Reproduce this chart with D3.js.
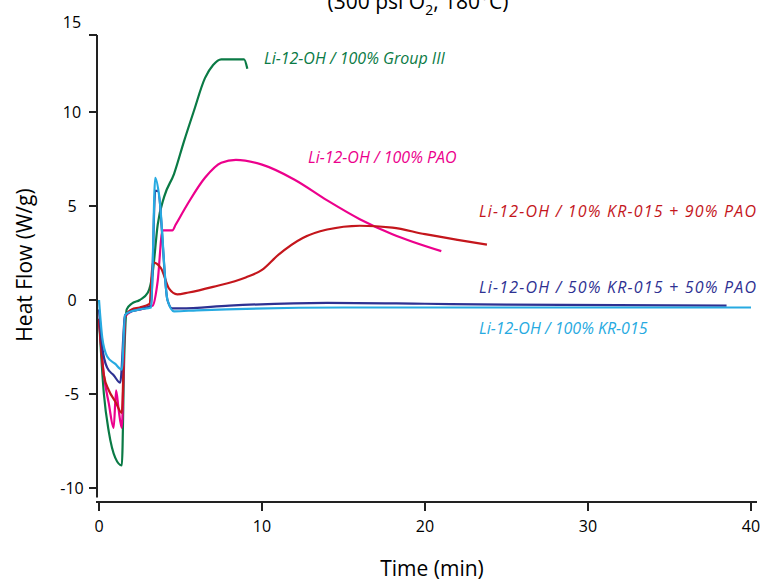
<!DOCTYPE html>
<html><head><meta charset="utf-8">
<script src="https://cdn.jsdelivr.net/npm/d3@7"></script>
<style>body{margin:0;background:#fff}text{font-family:"Open Sans",sans-serif}</style>
</head><body><svg id="c" width="764" height="582"></svg>
<script>
// [time (min), heat flow (W/g)]
const groupIII = [[0,-1],[0.3,-5],[0.6,-7],[1,-8.4],[1.4,-8.8],[1.55,-3],[1.7,-0.5],[2,-0.2],[2.5,0],[3,0.4],[3.3,1.5],[3.6,4],[4,5.5],[4.6,6.7],[5.2,8.4],[5.8,10],[6.5,11.8],[7,12.5],[7.5,12.8],[8.5,12.8],[8.9,12.8],[9.1,12.3]];
const pao = [[0,-1],[0.3,-4],[0.6,-5.5],[0.9,-6.8],[1.05,-4.8],[1.2,-5.8],[1.4,-6.8],[1.6,-0.9],[2,-0.6],[2.5,-0.5],[3.3,-0.3],[3.6,1],[3.9,3.7],[4.5,3.7],[4.7,4],[5.5,5.2],[6.5,6.5],[7.5,7.3],[8.4,7.45],[10,7.2],[12,6.4],[14,5.3],[16,4.3],[18,3.5],[21,2.6]];
const kr10 = [[0,-1],[0.3,-4],[0.6,-4.8],[1,-5.4],[1.4,-6],[1.6,-0.9],[2,-0.5],[2.5,-0.4],[3.1,-0.2],[3.3,2],[3.8,1.7],[4.3,0.6],[4.8,0.3],[5.5,0.4],[7,0.7],[9,1.2],[10,1.6],[11,2.4],[12.5,3.3],[14,3.75],[16,3.95],[18,3.85],[20,3.5],[22,3.2],[23.8,2.95]];
const kr50 = [[0,-0.5],[0.2,-2.5],[0.5,-3.6],[0.9,-4.0],[1.3,-4.4],[1.6,-0.8],[2,-0.6],[2.5,-0.5],[3.2,-0.3],[3.45,5.8],[3.6,5.8],[4.2,0],[4.5,-0.45],[5,-0.45],[8,-0.3],[14,-0.15],[20,-0.2],[25,-0.25],[38.5,-0.3]];
const kr100 = [[0,0],[0.2,-2],[0.5,-3],[1,-3.4],[1.4,-3.7],[1.6,-0.8],[2,-0.6],[2.5,-0.5],[3.2,-0.4],[3.45,6.5],[3.7,5.5],[4.2,0],[4.6,-0.6],[6,-0.55],[15,-0.4],[40,-0.4]];
const series = [
  {name:"Li-12-OH / 100% Group III", data:groupIII, color:"#0a7a45", lx:264, ly:64},
  {name:"Li-12-OH / 100% PAO", data:pao, color:"#ec008c", lx:308, ly:163},
  {name:"Li-12-OH / 10% KR-015 + 90% PAO", data:kr10, color:"#c4161c", lx:479, ly:217},
  {name:"Li-12-OH / 50% KR-015 + 50% PAO", data:kr50, color:"#2e3192", lx:479, ly:293},
  {name:"Li-12-OH / 100% KR-015", data:kr100, color:"#27aae1", lx:479, ly:334}
];
const xTicks = [0,10,20,30,40];
const yTicks = [-10,-5,0,5,10];

const svg = d3.select("#c");
const x = d3.scaleLinear().domain([0,40]).range([99,751]);
const y = d3.scaleLinear().domain([0,10]).range([300,112]);

// axes
svg.append("line").attr("x1",97).attr("x2",97).attr("y1",35).attr("y2",y(-10.5)).attr("stroke","#222").attr("stroke-width",2);
svg.append("line").attr("x1",97).attr("x2",89).attr("y1",35).attr("y2",35).attr("stroke","#222").attr("stroke-width",2);
svg.append("text").attr("x",72).attr("y",28).attr("text-anchor","middle").attr("font-size",16).text("15");
yTicks.forEach(t=>{
  svg.append("line").attr("x1",89).attr("x2",97).attr("y1",y(t)).attr("y2",y(t)).attr("stroke","#222").attr("stroke-width",2);
  svg.append("text").attr("x",72).attr("y",y(t)+6).attr("text-anchor","middle").attr("font-size",16).text(t);
});
const bY = 502;
svg.append("line").attr("x1",96).attr("x2",757).attr("y1",bY).attr("y2",bY).attr("stroke","#222").attr("stroke-width",2);
xTicks.forEach(t=>{
  svg.append("line").attr("x1",x(t)).attr("x2",x(t)).attr("y1",bY).attr("y2",bY+9).attr("stroke","#222").attr("stroke-width",2);
  svg.append("text").attr("x",x(t)).attr("y",bY+30).attr("text-anchor","middle").attr("font-size",16).text(t);
});
svg.append("text").attr("x",432).attr("y",576).attr("text-anchor","middle").attr("font-size",21).text("Time (min)");
svg.append("text").attr("transform","translate(32,265) rotate(-90)").attr("text-anchor","middle").attr("font-size",21).text("Heat Flow (W/g)");
const title = svg.append("text").attr("x",418).attr("y",9).attr("text-anchor","middle").attr("font-size",21);
title.append("tspan").text("(300 psi O");
title.append("tspan").attr("font-size",14).attr("dy",6).text("2");
title.append("tspan").attr("dy",-6).text(", 180°C)");

const line = d3.line().x(d=>x(d[0])).y(d=>y(d[1])).curve(d3.curveMonotoneX);
series.forEach(s=>{
  svg.append("path").attr("d",line(s.data)).attr("fill","none").attr("stroke",s.color).attr("stroke-width",2.2);
  svg.append("text").attr("x",s.lx).attr("y",s.ly).attr("font-size",16).attr("font-style","italic").attr("fill",s.color)
    .attr("textLength",null).text(s.name);
});
svg.selectAll("text").filter(function(){return this.textContent==="Li-12-OH / 10% KR-015 + 90% PAO"||this.textContent==="Li-12-OH / 50% KR-015 + 50% PAO";})
  .attr("textLength",277).attr("lengthAdjust","spacing");
</script></body></html>
